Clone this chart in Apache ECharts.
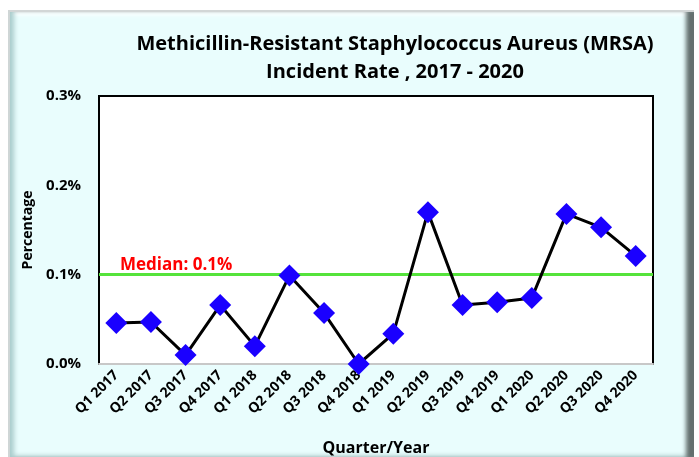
<!DOCTYPE html>
<html>
<head>
<meta charset="utf-8">
<script src="https://cdn.jsdelivr.net/npm/echarts@6/dist/echarts.min.js"></script>
<style>
  html, body { margin: 0; padding: 0; background: #ffffff; }
  .frame {
    position: absolute; left: 8px; top: 10px; width: 684px; height: 445px;
    background: #e9fdfd;
    border-top: 2px solid #d2d6d6;
    border-left: 2px solid #cfd6d6;
    box-shadow:
      inset 7px 0 5px -3px #a9cccc,
      inset -10px 0 4px -2px #64706f,
      inset 0 6px 4px -3px #ffffff,
      inset 0 -5px 4px -3px #c3dcdc;
  }
  #chart { position: absolute; left: 0; top: 0; width: 699px; height: 457px; }
</style>
</head>
<body>
<div class="frame"></div>
<div id="chart"></div>
<script>
const categories = ['Q1 2017', 'Q2 2017', 'Q3 2017', 'Q4 2017', 'Q1 2018', 'Q2 2018', 'Q3 2018', 'Q4 2018',
  'Q1 2019', 'Q2 2019', 'Q3 2019', 'Q4 2019', 'Q1 2020', 'Q2 2020', 'Q3 2020', 'Q4 2020']
const rates = [0.046, 0.047, 0.010, 0.066, 0.020, 0.099, 0.057, 0.000,
  0.034, 0.170, 0.066, 0.069, 0.074, 0.168, 0.153, 0.121]
const median = 0.097
const yTicks = [0, 0.1, 0.2, 0.3]

const FONT = 'Open Sans'
const chart = echarts.init(document.getElementById('chart'))

chart.setOption({
  backgroundColor: 'transparent',
  title: {
    text: 'Methicillin-Resistant Staphylococcus Aureus (MRSA)\nIncident Rate , 2017 - 2020',
    left: 390,
    top: 25,
    textAlign: 'center',
    textStyle: { fontFamily: FONT, fontSize: 20, fontWeight: 'bold', color: '#000', lineHeight: 28 },
  },
  grid: {
    left: 99, right: 46, top: 96, bottom: 93,
    outerBoundsMode: 'none',
    show: true, borderColor: '#000', borderWidth: 2, backgroundColor: '#fff',
  },
  xAxis: {
    type: 'category',
    data: categories,
    name: 'Quarter/Year',
    nameLocation: 'middle',
    nameGap: 76,
    nameTextStyle: { fontFamily: FONT, fontSize: 16, fontWeight: 'bold', color: '#000' },
    axisLine: { lineStyle: { color: '#c8c8c8', width: 2 } },
    axisTick: { show: false },
    axisLabel: {
      rotate: 45, interval: 0, margin: 9,
      fontFamily: FONT, fontSize: 14, fontWeight: 'bold', color: '#000',
    },
  },
  yAxis: {
    type: 'value',
    min: yTicks[0], max: yTicks[yTicks.length - 1], interval: 0.1,
    name: 'Percentage',
    nameLocation: 'middle',
    nameGap: 63,
    nameTextStyle: { fontFamily: FONT, fontSize: 14, fontWeight: 'bold', color: '#000' },
    axisLine: { show: true, lineStyle: { color: '#000', width: 2 } },
    axisTick: { show: false },
    splitLine: { show: false },
    axisLabel: {
      margin: 18,
      fontFamily: FONT, fontSize: 15, fontWeight: 'bold', color: '#000',
      formatter: v => v.toFixed(1) + '%',
    },
  },
  series: [{
    type: 'line',
    data: rates,
    symbol: 'diamond',
    symbolSize: 22,
    itemStyle: { color: '#1a00ff' },
    lineStyle: { color: '#000', width: 3 },
    z: 3,
    markLine: {
      silent: true,
      symbol: 'none',
      lineStyle: { color: '#55e33b', width: 3, type: 'solid' },
      label: {
        formatter: 'Median: 0.1%',
        position: 'insideStartTop',
        distance: [21, 1],
        fontFamily: FONT, fontSize: 17, fontWeight: 'bold', color: '#ff0000',
      },
      data: [{ yAxis: median }],
      z: 2,
    },
  }],
})
</script>
</body>
</html>
